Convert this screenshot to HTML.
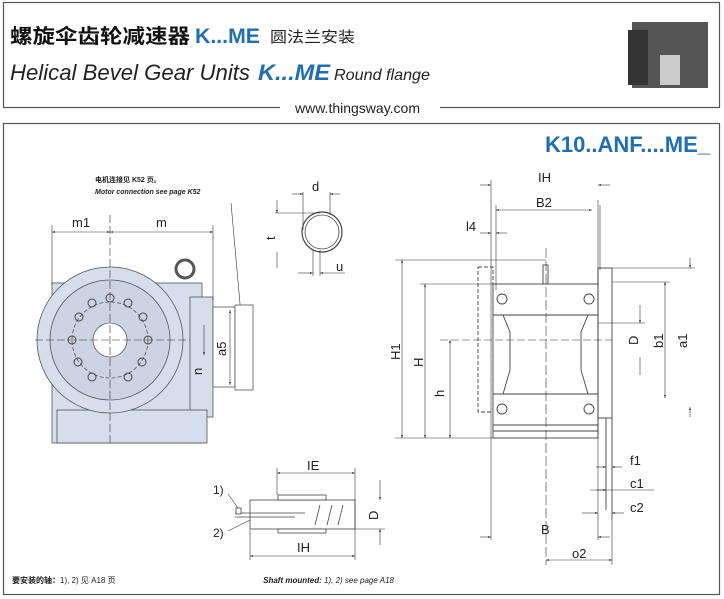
<!DOCTYPE html>
<html><head><meta charset="utf-8"><style>
body{margin:0;background:#fff;}
svg{display:block;font-family:"Liberation Sans","Noto Sans CJK SC",sans-serif;}
</style></head><body>
<svg width="724" height="599" viewBox="0 0 724 599" xmlns="http://www.w3.org/2000/svg">
<defs>
<marker id="a" viewBox="0 0 10 10" refX="10" refY="5" markerWidth="7" markerHeight="5" orient="auto-start-reverse"><path d="M0,2 L10,5 L0,8z" fill="#222"/></marker>
</defs>
<!-- header -->
<rect x="3.5" y="2.5" width="716" height="105" fill="none" stroke="#555" stroke-width="1.2"/>
<rect x="280" y="98" width="160" height="18" fill="#fff"/>
<text x="10" y="43" font-size="20" font-weight="bold" fill="#111" textLength="180" lengthAdjust="spacingAndGlyphs">螺旋伞齿轮减速器</text>
<text x="195" y="43" font-size="21" font-weight="bold" fill="#1f6fb2" textLength="65" lengthAdjust="spacingAndGlyphs">K...ME</text>
<text x="270" y="42" font-size="15" fill="#222" textLength="85" lengthAdjust="spacingAndGlyphs">圆法兰安装</text>
<text x="10" y="80" font-size="22" font-style="italic" fill="#222" textLength="240" lengthAdjust="spacingAndGlyphs">Helical Bevel Gear Units</text>
<text x="258" y="80" font-size="22" font-style="italic" font-weight="bold" fill="#1f6fb2" textLength="72" lengthAdjust="spacingAndGlyphs">K...ME</text>
<text x="334" y="80" font-size="16" font-style="italic" fill="#222" textLength="96" lengthAdjust="spacingAndGlyphs">Round flange</text>
<text x="295" y="113" font-size="14" fill="#222">www.thingsway.com</text>
<rect x="632" y="22" width="76" height="66" fill="#555"/>
<rect x="628" y="30" width="20" height="55" fill="#333"/>
<rect x="660" y="55" width="20" height="30" fill="#ccc"/>
<!-- main box -->
<rect x="3.5" y="123.5" width="716" height="471" fill="none" stroke="#555" stroke-width="1.2"/>
<text x="710" y="152" font-size="22" font-weight="bold" fill="#1f6fb2" text-anchor="end">K10..ANF....ME_</text>
<g font-size="7" font-weight="bold" fill="#222"><text x="95" y="182">电机连接见 K52 页。</text><text x="95" y="194" font-style="italic">Motor connection see page K52</text></g>
<line x1="231" y1="203" x2="242" y2="326" stroke="#333" stroke-width="0.6"/>
<!-- left view -->
<g stroke="#555" stroke-width="0.8" fill="#d6ddeb">
<rect x="52" y="283" width="150" height="160"/>
<rect x="190" y="297" width="23" height="120"/>
<rect x="57" y="410" width="150" height="33"/>
<circle cx="185" cy="269" r="9" fill="none" stroke-width="3"/>
<circle cx="110" cy="340" r="73"/>
<circle cx="110" cy="340" r="60" fill="#ccd4e4"/>
<circle cx="110" cy="340" r="38" fill="none" stroke-dasharray="4 2"/>
<circle cx="110" cy="340" r="17" fill="#fff"/>
<rect x="213" y="307" width="22" height="80" fill="#fff"/>
<rect x="235" y="305" width="18" height="85" fill="#fff"/>
</g>
<g fill="none" stroke="#444" stroke-width="1">
<circle cx="110" cy="298" r="4"/><circle cx="128" cy="303" r="4"/><circle cx="143" cy="317" r="4"/><circle cx="148" cy="340" r="4"/><circle cx="142" cy="362" r="4"/><circle cx="128" cy="377" r="4"/><circle cx="92" cy="377" r="4"/><circle cx="78" cy="362" r="4"/><circle cx="72" cy="340" r="4"/><circle cx="79" cy="317" r="4"/><circle cx="92" cy="303" r="4"/>
</g>
<g stroke="#333" stroke-width="0.6" fill="none">
<line x1="35" y1="340" x2="190" y2="340" stroke-dasharray="8 3"/>
<line x1="110" y1="215" x2="110" y2="445" stroke-dasharray="8 3"/>
<line x1="52" y1="225" x2="52" y2="285"/><line x1="213" y1="225" x2="213" y2="300"/>
<line x1="52" y1="232" x2="110" y2="232" marker-start="url(#a)" marker-end="url(#a)"/>
<line x1="110" y1="232" x2="213" y2="232" marker-start="url(#a)" marker-end="url(#a)"/>
<line x1="230" y1="310" x2="230" y2="385" marker-start="url(#a)" marker-end="url(#a)"/>
<line x1="204" y1="325" x2="204" y2="355" marker-end="url(#a)"/>
</g>
<g font-size="13" fill="#222"><text x="72" y="227">m1</text><text x="156" y="227">m</text>
<text transform="translate(226,356) rotate(-90)">a5</text><text transform="translate(202,375) rotate(-90)">n</text></g>
<!-- shaft circle -->
<circle cx="322" cy="232" r="20" fill="none" stroke="#444" stroke-width="1.2"/>
<circle cx="322" cy="232" r="17" fill="none" stroke="#444" stroke-width="0.8"/>
<g stroke="#333" stroke-width="0.6" fill="none">
<line x1="303" y1="192" x2="303" y2="230"/><line x1="330" y1="192" x2="330" y2="215"/>
<line x1="292" y1="194" x2="303" y2="194" marker-end="url(#a)"/><line x1="340" y1="194" x2="330" y2="194" marker-end="url(#a)"/>
<line x1="275" y1="213" x2="320" y2="213"/>
<line x1="277" y1="200" x2="277" y2="213" marker-end="url(#a)"/><line x1="277" y1="268" x2="277" y2="252"/>
<line x1="313" y1="250" x2="313" y2="276"/><line x1="320" y1="250" x2="320" y2="276"/>
<line x1="298" y1="273" x2="313" y2="273" marker-end="url(#a)"/><line x1="345" y1="273" x2="320" y2="273" marker-end="url(#a)"/>
</g>
<g font-size="13" fill="#222"><text x="312" y="191">d</text><text transform="translate(275,240) rotate(-90)">t</text><text x="336" y="271">u</text></g>
<!-- right view -->
<g stroke="#444" stroke-width="0.9" fill="#fff">
<rect x="478" y="267" width="15" height="145" stroke-dasharray="4 2" fill="none"/>
<rect x="493" y="284" width="105" height="154"/>
<line x1="493" y1="315" x2="598" y2="315"/><line x1="493" y1="394" x2="598" y2="394"/>
<line x1="493" y1="425" x2="598" y2="425"/><line x1="493" y1="431" x2="598" y2="431"/>
<path d="M503,315 L510,332 L510,370 L503,394 M588,315 L581,332 L581,370 L588,394" fill="none"/>
<rect x="598" y="268" width="14" height="150"/>
<line x1="606" y1="418" x2="606" y2="510"/><line x1="612" y1="418" x2="612" y2="520"/>
<circle cx="502" cy="299" r="5"/><circle cx="589" cy="299" r="5"/><circle cx="502" cy="409" r="5"/><circle cx="589" cy="409" r="5"/>
<rect x="543" y="265" width="5" height="19"/>
</g>
<g stroke="#333" stroke-width="0.6" fill="none">
<line x1="546" y1="248" x2="546" y2="565" stroke-dasharray="10 3"/>
<line x1="440" y1="340" x2="612" y2="340" stroke-dasharray="8 3"/>
<line x1="395" y1="260" x2="546" y2="260"/><line x1="420" y1="284" x2="493" y2="284"/><line x1="395" y1="438" x2="493" y2="438"/>
<line x1="402" y1="260" x2="402" y2="438" marker-start="url(#a)" marker-end="url(#a)"/>
<line x1="425" y1="284" x2="425" y2="438" marker-start="url(#a)" marker-end="url(#a)"/>
<line x1="450" y1="340" x2="450" y2="438" marker-start="url(#a)" marker-end="url(#a)"/>
<line x1="491" y1="180" x2="491" y2="540"/><line x1="598" y1="200" x2="598" y2="540"/><line x1="496" y1="205" x2="496" y2="290"/><line x1="600" y1="205" x2="600" y2="270"/>
<line x1="480" y1="185" x2="491" y2="185" marker-end="url(#a)"/><line x1="610" y1="185" x2="598" y2="185" marker-end="url(#a)"/>
<line x1="496" y1="210" x2="592" y2="210" marker-start="url(#a)" marker-end="url(#a)"/>
<line x1="480" y1="233" x2="491" y2="233" marker-end="url(#a)"/><line x1="507" y1="233" x2="496" y2="233" marker-end="url(#a)"/>
<line x1="612" y1="268" x2="695" y2="268"/><line x1="612" y1="282" x2="670" y2="282"/><line x1="598" y1="323" x2="645" y2="323"/>
<line x1="640" y1="305" x2="640" y2="323" marker-end="url(#a)"/><line x1="640" y1="375" x2="640" y2="357"/>
<line x1="665" y1="282" x2="665" y2="398" marker-start="url(#a)" marker-end="url(#a)"/>
<line x1="690" y1="258" x2="690" y2="268" marker-end="url(#a)"/><line x1="690" y1="417" x2="690" y2="407" marker-end="url(#a)"/>
<line x1="596" y1="467" x2="606" y2="467" marker-end="url(#a)"/><line x1="622" y1="467" x2="612" y2="467" marker-end="url(#a)"/>
<line x1="590" y1="490" x2="654" y2="490"/><line x1="596" y1="490" x2="606" y2="490" marker-end="url(#a)"/>
<line x1="582" y1="513" x2="598" y2="513" marker-end="url(#a)"/><line x1="624" y1="513" x2="612" y2="513" marker-end="url(#a)"/>
<line x1="480" y1="537" x2="491" y2="537" marker-end="url(#a)"/><line x1="610" y1="537" x2="598" y2="537" marker-end="url(#a)"/>
<line x1="546" y1="560" x2="612" y2="560" marker-start="url(#a)" marker-end="url(#a)"/><line x1="612" y1="520" x2="612" y2="565"/>
</g>
<g font-size="13" fill="#222">
<text x="538" y="182">IH</text><text x="536" y="207">B2</text><text x="466" y="231">l4</text>
<text transform="translate(400,360) rotate(-90)">H1</text><text transform="translate(423,367) rotate(-90)">H</text><text transform="translate(444,397) rotate(-90)">h</text>
<text transform="translate(638,345) rotate(-90)">D</text><text transform="translate(663,348) rotate(-90)">b1</text><text transform="translate(687,348) rotate(-90)">a1</text>
<text x="630" y="465">f1</text><text x="630" y="488">c1</text><text x="630" y="512">c2</text><text x="541" y="534">B</text><text x="572" y="558">o2</text>
</g>
<!-- bottom shaft -->
<g stroke="#444" stroke-width="0.8" fill="#fff">
<rect x="250" y="500" width="105" height="29"/>
<rect x="278" y="495" width="48" height="5"/><rect x="278" y="529" width="48" height="4"/>
<line x1="235" y1="513" x2="305" y2="513"/><line x1="235" y1="517" x2="295" y2="517"/>
<path d="M320,505 L315,525 M332,505 L327,525 M343,505 L338,525" fill="none"/>
<rect x="236" y="508" width="5" height="6"/>
</g>
<g stroke="#333" stroke-width="0.6" fill="none">
<line x1="277" y1="468" x2="277" y2="495"/><line x1="355" y1="468" x2="355" y2="560"/><line x1="250" y1="530" x2="250" y2="560"/>
<line x1="277" y1="473" x2="355" y2="473" marker-start="url(#a)" marker-end="url(#a)"/>
<line x1="250" y1="556" x2="355" y2="556" marker-start="url(#a)" marker-end="url(#a)"/>
<line x1="355" y1="529" x2="385" y2="529"/>
<line x1="380" y1="480" x2="380" y2="500" marker-end="url(#a)"/><line x1="380" y1="545" x2="380" y2="529" marker-end="url(#a)"/>
<line x1="228" y1="494" x2="238" y2="508"/><line x1="228" y1="531" x2="250" y2="520"/>
</g>
<g font-size="13" fill="#222"><text x="307" y="470">IE</text><text x="297" y="552">IH</text><text transform="translate(378,520) rotate(-90)">D</text>
<text x="213" y="494" font-size="12">1)</text><text x="213" y="537" font-size="12">2)</text></g>
<text x="12" y="583" font-size="8" fill="#222"><tspan font-weight="bold">要安装的轴：</tspan>1), 2) 见 A18 页</text>
<text x="394" y="583" font-size="8" fill="#222" font-style="italic" text-anchor="end"><tspan font-weight="bold">Shaft mounted:</tspan> 1), 2) see page A18</text>
</svg>
</body></html>
